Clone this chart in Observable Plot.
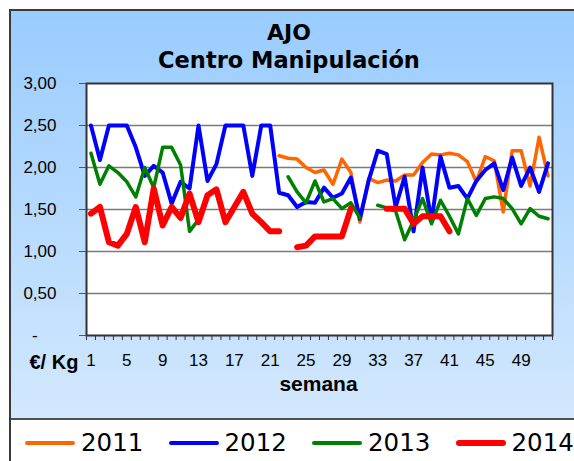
<!DOCTYPE html>
<html><head><meta charset="utf-8">
<script src="https://cdn.jsdelivr.net/npm/d3@7"></script>
<script src="https://cdn.jsdelivr.net/npm/@observablehq/plot@0.6"></script>
<style>
html,body{margin:0;padding:0;background:#fff;}
#wrap{position:relative;width:574px;height:461px;overflow:hidden;background:#fff;}
#box{position:absolute;left:9px;top:9px;width:620px;height:520px;border-left:2px solid #3a3a3a;border-top:2px solid #3a3a3a;box-sizing:border-box;}
#bg{position:absolute;left:0;top:0;right:0;height:409px;background:linear-gradient(#99ccff,#d3e8fd);border-bottom:2px solid #505050;box-sizing:border-box;}
.title{position:absolute;left:0;width:578px;text-align:center;font-family:"DejaVu Sans",Verdana,sans-serif;font-weight:bold;color:#000;line-height:1;white-space:nowrap;}
#chart{position:absolute;left:0;top:0;}
.leg{position:absolute;top:429px;height:28px;}
.leg .ln{position:absolute;left:0;width:50px;border-radius:3px;}
.leg .tx{position:absolute;left:56px;top:0;font-family:"DejaVu Sans",Verdana,sans-serif;font-size:24.5px;line-height:28px;color:#000;white-space:nowrap;}
</style>
</head><body>
<div id="wrap">
  <div id="box"><div id="bg"></div></div>
  <div class="title" id="t1" style="top:22px;font-size:22px;"></div>
  <div class="title" id="t2" style="top:49px;font-size:22.5px;"></div>
  <div id="chart"></div>
  <div id="legend"></div>
</div>
<script>
const titleLines = ["AJO", "Centro Manipulación"];
const yAxisLabel = "€/ Kg";
const xAxisLabel = "semana";
const seriesNames = ["2011", "2012", "2013", "2014"];
const seriesColors = ["#ff6600", "#0000ff", "#008000", "#ff0000"];
const weeks = d3.range(1, 53);
const xTickWeeks = [1, 5, 9, 13, 17, 21, 25, 29, 33, 37, 41, 45, 49];
const yTicks = [0, 0.5, 1, 1.5, 2, 2.5, 3];
const yTickLabels = ["-\u2007\u2007", "0,50", "1,00", "1,50", "2,00", "2,50", "3,00"];

const v2011 = [null,null,null,null,null,null,null,null,null,null,
  null,null,null,null,null,null,null,null,null,null,
  null,2.14,2.11,2.10,2.00,1.94,1.97,1.80,2.10,1.94,
  1.35,1.87,1.82,1.85,1.84,1.91,1.91,2.06,2.16,2.15,
  2.17,2.15,2.07,1.83,2.13,2.08,1.47,2.20,2.20,1.78,
  2.36,1.90];
const v2012 = [2.50,2.09,2.50,2.50,2.50,2.24,1.90,2.02,1.94,1.57,
  1.83,1.75,2.50,1.84,2.04,2.50,2.50,2.50,1.90,2.50,
  2.50,1.70,1.67,1.53,1.59,1.58,1.76,1.64,1.69,1.88,
  1.39,1.85,2.20,2.16,1.53,1.89,1.24,2.00,1.36,2.13,
  1.76,1.78,1.63,1.84,1.97,2.05,1.73,2.12,1.78,2.00,
  1.71,2.05];
const v2013 = [2.17,1.80,2.02,1.94,1.83,1.65,2.00,1.76,2.24,2.24,
  2.03,1.24,1.38,null,null,null,null,null,null,null,
  null,null,1.89,1.71,1.58,1.84,1.59,1.63,1.51,1.58,
  1.40,null,1.55,1.52,1.48,1.14,1.37,1.63,1.33,1.61,
  1.42,1.21,1.63,1.43,1.63,1.65,1.63,1.51,1.33,1.51,
  1.42,1.39];
const v2014 = [1.45,1.53,1.11,1.07,1.21,1.53,1.11,1.75,1.31,1.53,
  1.40,1.69,1.35,1.67,1.74,1.35,1.53,1.71,1.45,1.35,
  1.24,1.24,null,1.05,1.07,1.18,1.18,1.18,1.18,1.51,
  null,null,null,1.51,1.51,1.51,1.33,1.42,1.42,1.42,
  1.24,null,null,null,null,null,null,null,null,null,
  null,null];

const seriesValues = [v2011, v2012, v2013, v2014];
const lineWidths = [3.5, 4, 3.5, 6];

document.getElementById("t1").textContent = titleLines[0];
document.getElementById("t2").textContent = titleLines[1];

const rows = seriesValues.map((vals, s) =>
  weeks.map((w, i) => ({week: w, value: vals[i], series: seriesNames[s]})));

const boundaries = d3.range(0.5, 53, 1);

const chart = Plot.plot({
  width: 574,
  height: 418,
  marginLeft: 86,
  marginRight: 22,
  marginTop: 83,
  marginBottom: 83,
  style: {background: "transparent", fontFamily: "'Liberation Sans', Arial, sans-serif", fontSize: "17px", color: "#000", overflow: "visible"},
  x: {domain: [0.5, 52.5], axis: null},
  y: {domain: [0, 3], axis: null},
  marks: [
    Plot.frame({fill: "#fff", stroke: "none"}),
    Plot.gridY(yTicks.filter(t => t > 0 && t < 3), {stroke: "#7a7a7a", strokeOpacity: 1, strokeWidth: 1.3}),
    ...rows.map((r, s) => Plot.line(r, {x: "week", y: "value", stroke: seriesColors[s], strokeWidth: lineWidths[s], strokeLinejoin: "round", strokeLinecap: "round"})),
    Plot.frame({stroke: "#333", strokeWidth: 2}),
    Plot.axisX({ticks: boundaries, tickSize: 5, tickFormat: () => "", stroke: "#333", label: null}),
    Plot.axisX({ticks: xTickWeeks, tickSize: 0, tickPadding: 18, tickFormat: d => String(d), fontSize: 17, fill: "#000", label: null}),
    Plot.axisY({ticks: yTicks, tickSize: 7, tickPadding: 23, stroke: "#555", tickFormat: d => yTickLabels[yTicks.indexOf(d)], fontSize: 17, fill: "#000", label: null}),
    Plot.text([yAxisLabel], {frameAnchor: "bottom-left", dx: -57, dy: 27, textAnchor: "start", lineAnchor: "middle", fontWeight: "bold", fontSize: 20, fill: "#000"}),
    Plot.text([xAxisLabel], {frameAnchor: "bottom", dx: -1, dy: 49, lineAnchor: "middle", fontWeight: "bold", fontSize: 21, fill: "#000", style: {letterSpacing: "3px"}})
  ]
});
document.getElementById("chart").appendChild(chart);

const legend = document.getElementById("legend");
seriesNames.forEach((name, i) => {
  const item = document.createElement("div");
  item.className = "leg";
  item.style.left = (25 + i * 143.5) + "px";
  const ln = document.createElement("div");
  ln.className = "ln";
  const h = i === 3 ? 5.5 : 3.5;
  ln.style.height = h + "px";
  ln.style.top = (14 - h / 2) + "px";
  ln.style.background = seriesColors[i];
  const tx = document.createElement("div");
  tx.className = "tx";
  tx.textContent = name;
  item.appendChild(ln);
  item.appendChild(tx);
  legend.appendChild(item);
});
</script>
</body></html>
